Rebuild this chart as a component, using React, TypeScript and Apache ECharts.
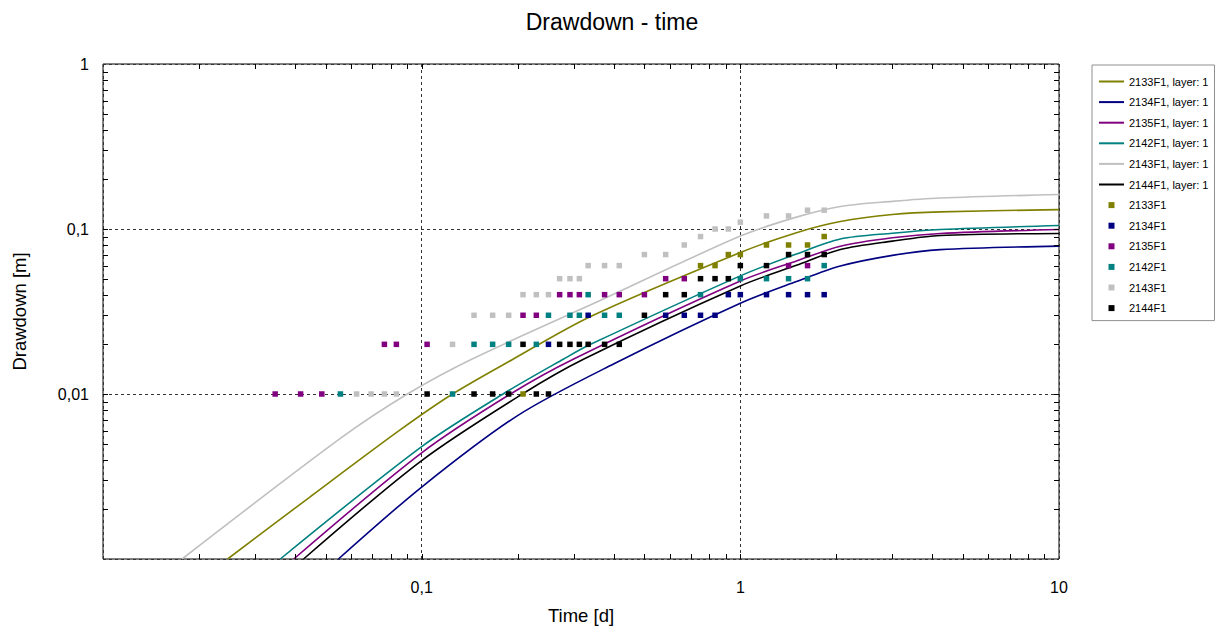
import React, { useEffect, useRef } from "react";
import * as echarts from "echarts";

// Well identifiers and colours
const wells = ["2133F1", "2134F1", "2135F1", "2142F1", "2143F1", "2144F1"];
const wellColors = ["#808000", "#000080", "#800080", "#008080", "#c0c0c0", "#000000"];

// Simulated drawdown curves [time (d), drawdown (m)]
const curve2133 = [[0.0246, 0.001], [0.0449, 0.0024], [0.086, 0.0061], [0.125, 0.01], [0.194, 0.0163], [0.339, 0.0295], [1.0, 0.072], [1.5, 0.095], [2.06, 0.111], [3.0, 0.1224], [4.24, 0.127], [10, 0.131]];
const curve2134 = [[0.0548, 0.001], [0.1, 0.00273], [0.2, 0.0074], [0.4, 0.0152], [1.0, 0.0355], [1.5, 0.048], [2.06, 0.0596], [3.0, 0.0692], [4.24, 0.075], [10, 0.0787]];
const curve2135 = [[0.0397, 0.001], [0.1, 0.0044], [0.19, 0.01], [0.3, 0.0163], [1.0, 0.0484], [1.5, 0.064], [2.06, 0.0787], [3.0, 0.0885], [4.24, 0.094], [10, 0.0993]];
const curve2142 = [[0.036, 0.001], [0.1, 0.0048], [0.18, 0.01], [0.279, 0.0163], [0.339, 0.02], [1.0, 0.052], [1.5, 0.0705], [2.06, 0.087], [3.0, 0.0943], [4.24, 0.0993], [10, 0.105]];
const curve2143 = [[0.0177, 0.001], [0.0557, 0.0054], [0.0902, 0.01], [0.144, 0.0163], [0.331, 0.034], [1.0, 0.0906], [1.5, 0.118], [2.06, 0.137], [3.0, 0.147], [4.24, 0.154], [10, 0.162]];
const curve2144 = [[0.0426, 0.001], [0.1, 0.00395], [0.207, 0.01], [0.323, 0.0163], [1.0, 0.0452], [1.5, 0.0602], [2.06, 0.0751], [3.0, 0.0844], [4.24, 0.0913], [10, 0.094]];

// Observed drawdown [time (d), drawdown (m)]
const obs2133 = [[0.208, 0.01], [0.75, 0.06], [0.833, 0.06], [0.917, 0.07], [1.0, 0.07], [1.208, 0.08], [1.417, 0.08], [1.625, 0.08], [1.833, 0.09]];
const obs2134 = [[0.25, 0.02], [0.333, 0.03], [0.583, 0.03], [0.667, 0.03], [0.75, 0.03], [0.833, 0.03], [0.917, 0.04], [1.0, 0.04], [1.208, 0.04], [1.417, 0.04], [1.625, 0.04], [1.833, 0.04]];
const obs2135 = [[0.0347, 0.01], [0.0417, 0.01], [0.0486, 0.01], [0.0764, 0.02], [0.0833, 0.02], [0.104, 0.02], [0.208, 0.03], [0.229, 0.03], [0.271, 0.04], [0.292, 0.04], [0.3125, 0.04], [0.375, 0.04], [0.417, 0.04], [0.5, 0.04], [0.583, 0.05], [0.667, 0.05], [1.417, 0.06], [1.625, 0.06]];
const obs2142 = [[0.0556, 0.01], [0.125, 0.01], [0.146, 0.02], [0.167, 0.02], [0.1875, 0.02], [0.229, 0.02], [0.25, 0.03], [0.292, 0.03], [0.3125, 0.03], [0.333, 0.04], [0.375, 0.03], [0.417, 0.03], [0.75, 0.04], [1.0, 0.05], [1.208, 0.05], [1.417, 0.05], [1.625, 0.05], [1.833, 0.06]];
const obs2143 = [[0.0625, 0.01], [0.0694, 0.01], [0.0764, 0.01], [0.0833, 0.01], [0.125, 0.02], [0.146, 0.03], [0.167, 0.03], [0.1875, 0.03], [0.208, 0.04], [0.229, 0.04], [0.25, 0.04], [0.271, 0.05], [0.292, 0.05], [0.3125, 0.05], [0.333, 0.06], [0.375, 0.06], [0.417, 0.06], [0.5, 0.07], [0.583, 0.07], [0.667, 0.08], [0.75, 0.09], [0.833, 0.1], [0.917, 0.1], [1.0, 0.11], [1.208, 0.12], [1.417, 0.12], [1.625, 0.13], [1.833, 0.13]];
const obs2144 = [[0.104, 0.01], [0.146, 0.01], [0.167, 0.01], [0.1875, 0.01], [0.208, 0.02], [0.229, 0.01], [0.25, 0.01], [0.271, 0.02], [0.292, 0.02], [0.3125, 0.02], [0.333, 0.02], [0.375, 0.02], [0.417, 0.02], [0.5, 0.03], [0.583, 0.04], [0.667, 0.04], [0.75, 0.05], [0.833, 0.05], [0.917, 0.05], [1.0, 0.06], [1.208, 0.06], [1.417, 0.07], [1.625, 0.07], [1.833, 0.07]];

const curves = [curve2133, curve2134, curve2135, curve2142, curve2143, curve2144];
const observations = [obs2133, obs2134, obs2135, obs2142, obs2143, obs2144];

// Axis tick positions (inside ticks on all four sides)
const xTickValues = [0.02, 0.03, 0.04, 0.05, 0.06, 0.07, 0.08, 0.09, 0.1, 0.2, 0.3, 0.4, 0.5, 0.6, 0.7, 0.8, 0.9, 1, 2, 3, 4, 5, 6, 7, 8, 9];
const yTickValues = [0.002, 0.003, 0.004, 0.005, 0.006, 0.007, 0.008, 0.009, 0.01, 0.02, 0.03, 0.04, 0.05, 0.06, 0.07, 0.08, 0.09, 0.1, 0.2, 0.3, 0.4, 0.5, 0.6, 0.7, 0.8, 0.9];

const FONT = "Liberation Sans, Arial, sans-serif";
const SQUARE = "path://M0,0L10,0L10,10L0,10Z";
const BAR = "path://M0,0L25,0L25,2L0,2Z";

function fmt(v: number): string {
  const s = v >= 1 ? String(Math.round(v)) : Number(v.toPrecision(1)).toString();
  return s.replace(".", ",");
}

export default function App() {
  const ref = useRef<HTMLDivElement>(null);

  useEffect(() => {
    if (!ref.current) return;
    const chart = echarts.init(ref.current, null, { renderer: "svg" });

    const lineSeries = wells.map((w, i) => ({
      name: `${w}, layer: 1`,
      type: "line",
      data: curves[i],
      symbol: "none",
      smooth: 0.3,
      lineStyle: { color: wellColors[i], width: 1.6 },
      itemStyle: { color: wellColors[i] },
      z: 3,
    }));

    const scatterSeries = wells.map((w, i) => ({
      name: w,
      type: "scatter",
      data: observations[i],
      symbol: "rect",
      symbolSize: 5.5,
      itemStyle: { color: wellColors[i], opacity: 1 },
      z: 4,
    }));

    const tickStyle = { stroke: "#000", lineWidth: 1 };
    const xTickSeries = {
      type: "custom",
      name: "xticks",
      silent: true,
      z: 6,
      data: xTickValues.map((v) => [v, 0.01]),
      renderItem: (params: any, api: any) => {
        const cs = params.coordSys;
        const x = Math.round(api.coord([api.value(0), api.value(1)])[0]) + 0.5;
        const b = cs.y + cs.height;
        return {
          type: "group",
          children: [
            { type: "line", shape: { x1: x, y1: b, x2: x, y2: b - 5 }, style: tickStyle },
            { type: "line", shape: { x1: x, y1: cs.y, x2: x, y2: cs.y + 5 }, style: tickStyle },
          ],
        };
      },
    };
    const yTickSeries = {
      type: "custom",
      name: "yticks",
      silent: true,
      z: 6,
      data: yTickValues.map((v) => [1, v]),
      renderItem: (params: any, api: any) => {
        const cs = params.coordSys;
        const y = Math.round(api.coord([api.value(0), api.value(1)])[1]) + 0.5;
        const r = cs.x + cs.width;
        return {
          type: "group",
          children: [
            { type: "line", shape: { x1: cs.x, y1: y, x2: cs.x + 5, y2: y }, style: tickStyle },
            { type: "line", shape: { x1: r, y1: y, x2: r - 5, y2: y }, style: tickStyle },
          ],
        };
      },
    };

    chart.setOption({
      animation: false,
      backgroundColor: "#ffffff",
      textStyle: { fontFamily: FONT },
      title: {
        text: "Drawdown - time",
        left: "center",
        top: 5,
        textStyle: { fontSize: 23, fontWeight: "normal", color: "#000", fontFamily: FONT },
      },
      legend: {
        orient: "vertical",
        left: 1092,
        top: 65,
        padding: [11, 6, 7, 7],
        borderColor: "#909090",
        borderWidth: 1,
        itemWidth: 25,
        itemHeight: 6,
        itemGap: 9.6,
        textStyle: { fontSize: 11, color: "#000", fontFamily: FONT },
        data: [
          ...wells.map((w) => ({ name: `${w}, layer: 1`, icon: BAR })),
          ...wells.map((w) => ({ name: w, icon: SQUARE })),
        ],
      },
      grid: {
        left: 103,
        right: 165,
        top: 64,
        bottom: 69,
        show: true,
        borderColor: "#000",
        borderWidth: 1,
        backgroundColor: "transparent",
      },
      xAxis: {
        type: "log",
        logBase: 10,
        min: 0.01,
        max: 10,
        name: "Time [d]",
        nameLocation: "middle",
        nameGap: 47,
        nameTextStyle: { fontSize: 18.5, color: "#000", fontFamily: FONT },
        axisLine: { show: false },
        axisTick: { show: false },
        axisLabel: { formatter: fmt, showMinLabel: false, fontSize: 16, color: "#000", margin: 20, fontFamily: FONT },
        splitLine: { show: true, lineStyle: { color: "#333", type: [3, 3], width: 1 } },
      },
      yAxis: {
        type: "log",
        logBase: 10,
        min: 0.001,
        max: 1,
        name: "Drawdown [m]",
        nameLocation: "middle",
        nameRotate: 90,
        nameGap: 74,
        nameTextStyle: { fontSize: 18.5, color: "#000", fontFamily: FONT },
        axisLine: { show: false },
        axisTick: { show: false },
        axisLabel: { formatter: fmt, showMinLabel: false, fontSize: 16, color: "#000", margin: 14, fontFamily: FONT },
        splitLine: { show: true, lineStyle: { color: "#333", type: [3, 3], width: 1 } },
      },
      series: [...lineSeries, ...scatterSeries, xTickSeries, yTickSeries],
    });

    return () => chart.dispose();
  }, []);

  return (
    <div
      ref={ref}
      style={{ position: "fixed", left: 0, top: 0, width: 1224, height: 630, background: "#fff" }}
    />
  );
}
